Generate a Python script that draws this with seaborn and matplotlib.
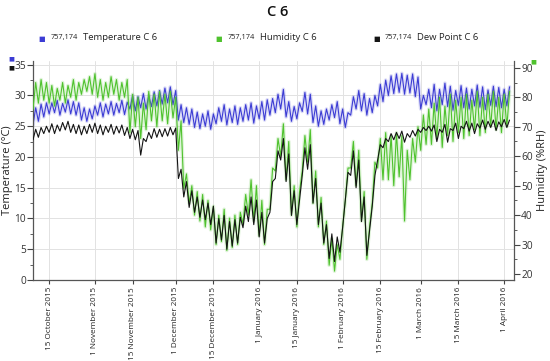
import matplotlib
matplotlib.use("Agg")
import matplotlib.pyplot as plt
import matplotlib.dates as mdates
from matplotlib.ticker import MultipleLocator
import numpy as np
import pandas as pd
import seaborn as sns

# series start; values below are 2-day pairs: trough on day 2k, peak on day 2k+1
start = pd.Timestamp("2015-10-09")

temp_lo = [25.2, 25.8, 26.5, 27.0, 27.2, 26.8, 27.3, 27.0, 26.8, 26.0, 25.8, 26.2,
           26.8, 26.5, 27.0, 26.8, 27.2, 26.9, 27.8, 27.5, 28.0, 27.8, 28.2,
           28.3, 28.6, 28.8, 28.5, 26.0, 25.6, 25.3, 24.8, 24.6, 25.0, 24.5,
           25.4, 25.8, 25.2, 25.6, 25.3, 25.8, 26.0, 25.5, 26.2, 26.0,
           26.8, 27.2, 27.8, 26.5, 25.8, 26.2, 27.4, 27.0, 25.6, 25.0, 25.3,
           26.0, 26.4, 25.4, 24.8, 26.8, 27.8, 27.5, 26.8, 27.2, 28.3, 29.0,
           30.0, 30.3, 30.5, 30.2, 30.4, 29.8, 27.8, 28.5,
           28.0, 27.5, 28.5, 28.2, 27.6, 28.4, 28.0, 27.8, 28.3, 28.1, 27.7, 28.4, 28.2, 28.0, 28.3]
temp_hi = [28.0, 28.6, 28.8, 28.8, 29.2, 28.7, 29.3, 29.0, 28.8, 28.0, 27.8, 28.3,
           28.8, 28.6, 29.0, 28.7, 29.2, 28.9, 30.0, 29.8, 30.3, 30.0, 30.6,
           30.8, 31.2, 31.4, 30.8, 28.5, 28.0, 27.8, 27.3, 27.0, 27.5, 27.0,
           28.0, 28.5, 27.8, 28.3, 28.0, 28.5, 28.8, 28.3, 29.0, 29.3,
           29.5, 30.2, 31.0, 29.0, 28.2, 28.8, 30.5, 30.2, 28.3, 27.5, 27.8,
           28.5, 29.0, 27.8, 27.2, 29.8, 30.8, 30.3, 29.5, 30.0, 31.8, 32.5,
           33.2, 33.5, 33.6, 33.3, 33.5, 33.0, 30.0, 31.0,
           31.8, 31.0, 32.0, 31.5, 30.8, 31.6, 31.2, 31.0, 31.7, 31.4, 30.9, 31.5, 31.3, 31.0, 31.4]

hum_lo = [76, 78, 79, 78, 77, 79, 78, 80, 79, 81, 82, 81,
          80, 79, 80, 81, 79, 80, 68, 70, 66, 69, 72,
          70, 72, 71, 73, 62, 49, 44, 40, 38, 36, 35,
          30, 31, 28, 29, 30, 37, 40, 38, 33, 30,
          42, 55, 60, 52, 40, 36, 55, 58, 44, 36, 30,
          23, 21, 25, 45, 56, 50, 38, 25, 44, 56, 52,
          52, 50, 53, 38, 52, 58, 62, 64,
          64, 66, 63, 67, 65, 68, 66, 67, 69, 67, 68, 70, 69, 68, 70]
hum_hi = [85, 86, 85, 84, 83, 85, 84, 86, 85, 86, 87, 88,
          86, 85, 87, 86, 85, 86, 81, 80, 78, 82, 81,
          82, 81, 82, 80, 72, 54, 50, 48, 47, 45, 43,
          40, 42, 39, 40, 41, 47, 52, 50, 45, 42,
          56, 66, 71, 65, 50, 48, 67, 69, 55, 46, 38,
          32, 30, 36, 56, 65, 62, 48, 36, 58, 66, 68,
          67, 68, 67, 62, 66, 70, 74, 76,
          78, 80, 77, 81, 79, 80, 81, 79, 82, 80, 81, 82, 80, 81, 82]

dew_lo = [22.8, 23.2, 23.8, 24.0, 23.8, 24.2, 24.4, 24.0, 23.8, 23.6, 23.8, 24.0,
          23.8, 23.6, 24.0, 23.7, 23.9, 23.5, 23.0, 22.8, 20.3, 22.5, 23.0,
          23.2, 23.3, 23.4, 23.6, 16.5, 13.5, 11.8, 11.0, 10.2, 9.8, 9.0,
          6.0, 6.5, 5.0, 5.5, 6.0, 8.5, 9.5, 9.0, 7.0, 6.0,
          11.0, 16.5, 19.5, 16.0, 10.5, 9.0, 17.0, 18.0, 12.5, 9.0, 6.0,
          3.5, 3.0, 4.5, 13.0, 17.0, 15.0, 9.5, 4.0, 12.0, 19.5, 21.5,
          22.5, 22.8, 23.0, 22.4, 23.2, 23.4, 24.0, 24.3,
          24.2, 22.5, 24.0, 22.4, 24.3, 23.0, 24.6, 24.2, 23.8, 24.7, 24.5, 24.8, 24.3, 24.9, 24.8]
dew_hi = [24.5, 24.8, 25.0, 25.4, 25.2, 25.6, 25.8, 25.3, 25.2, 25.0, 25.3, 25.5,
          25.2, 25.0, 25.3, 25.0, 25.2, 24.8, 24.5, 24.3, 23.0, 24.0, 24.6,
          24.5, 24.6, 24.8, 24.7, 18.0, 16.0, 14.5, 13.5, 13.0, 12.5, 12.0,
          10.0, 10.5, 9.5, 9.8, 10.2, 12.0, 13.5, 13.0, 11.0, 10.0,
          16.0, 21.0, 23.0, 20.5, 14.5, 13.0, 21.5, 22.0, 16.5, 12.5, 9.0,
          7.5, 7.0, 8.5, 17.5, 21.0, 19.5, 13.5, 8.0, 17.0, 22.0, 23.0,
          23.8, 24.0, 24.2, 23.8, 24.3, 24.5, 24.8, 25.0,
          25.2, 24.5, 25.3, 24.6, 25.5, 25.0, 25.8, 25.5, 25.4, 26.0, 25.8, 26.0, 25.7, 26.1, 26.0]

series_names = ["Temperature C 6", "Humidity C 6", "Dew Point C 6"]
series_count = "757,174"
colors = ["#3c3cd4", "#4fc22e", "#141414"]


def zigzag(lo, hi):
    vals = np.column_stack([lo, hi]).ravel()
    days = start + pd.to_timedelta(np.arange(len(vals)), unit="D")
    return pd.DataFrame({"date": days, "value": vals})


temp_df = zigzag(temp_lo, temp_hi)
hum_df = zigzag(hum_lo, hum_hi)
dew_df = zigzag(dew_lo, dew_hi)

sns.set_style("white")
plt.rcParams["font.family"] = ["Open Sans", "DejaVu Sans"]

fig = plt.figure(figsize=(5.5, 3.61), dpi=100)
ax = fig.add_axes([0.06, 0.2244, 0.875, 0.6066])
ax2 = ax.twinx()
ax3 = ax.twinx()

halo = dict(lw=2.6, alpha=0.18)
sns.lineplot(data=temp_df, x="date", y="value", ax=ax, color=colors[0], legend=False, **halo)
sns.lineplot(data=temp_df, x="date", y="value", ax=ax, color=colors[0], lw=0.8, legend=False)
sns.lineplot(data=hum_df, x="date", y="value", ax=ax2, color=colors[1], legend=False, **halo)
sns.lineplot(data=hum_df, x="date", y="value", ax=ax2, color=colors[1], lw=0.8, legend=False)
sns.lineplot(data=dew_df, x="date", y="value", ax=ax3, color=colors[2], lw=0.8, legend=False)

ax.set_xlim(pd.Timestamp("2015-10-09"), pd.Timestamp("2016-04-04 18:00"))
ax.set_ylim(0, 35.6)
ax3.set_ylim(0, 35.6)
ax2.set_ylim(18, 92.3)

ax.xaxis.set_major_locator(mdates.DayLocator(bymonthday=[1, 15]))
ax.xaxis.set_major_formatter(mdates.DateFormatter("%-d %B %Y"))
ax.yaxis.set_major_locator(MultipleLocator(5))
ax.yaxis.set_minor_locator(MultipleLocator(2.5))
ax2.yaxis.set_major_locator(MultipleLocator(10))
ax2.yaxis.set_minor_locator(MultipleLocator(5))

ax.grid(True, color="#e2e2e2", lw=0.7)
ax.set_axisbelow(True)
ax.tick_params(axis="x", labelsize=5.9, rotation=90, length=3, color="#444444", labelcolor="#222222", pad=2)
ax.tick_params(axis="y", which="major", labelsize=7.3, length=4, color="#444444", labelcolor="#333333", pad=1)
ax.tick_params(axis="y", which="minor", length=2, color="#444444")
ax2.tick_params(axis="y", which="major", labelsize=7.3, length=4, color="#444444", labelcolor="#333333", pad=1)
ax2.tick_params(axis="y", which="minor", length=2, color="#444444")
ax.tick_params(left=True, bottom=True)
ax2.tick_params(right=True)

ax.set_xlabel("")
ax.set_ylabel("Temperature (°C)", fontsize=8, color="#222222", va="center")
ax.yaxis.set_label_coords(-0.054, 0.5)
ax2.set_ylabel("Humidity (%RH)", fontsize=8, color="#222222", rotation=90, va="center")
ax2.yaxis.set_label_coords(1.059, 0.5)
ax3.set_ylabel("")
ax3.set_yticks([])
ax3.axis("off")

for a in (ax, ax2):
    for s in a.spines.values():
        s.set_color("#555555")
        s.set_linewidth(0.9)
    a.spines["top"].set_visible(False)
ax.spines["right"].set_visible(False)
ax2.spines["left"].set_visible(False)
ax2.spines["bottom"].set_visible(False)

fig.text(0.505, 0.967, "C 6", ha="center", va="center", fontsize=10.5, weight="semibold", color="#111111")

legend_x = [0.076, 0.397, 0.684]
for lx, name, c in zip(legend_x, series_names, colors):
    fig.text(lx, 0.893, "\u25a0", color=c, fontsize=5, ha="center", va="center", family="DejaVu Sans")
    fig.text(lx + 0.016, 0.896, series_count, fontsize=5.3, ha="left", va="center", color="#222222")
    fig.text(lx + 0.075, 0.895, name, fontsize=6.8, ha="left", va="center", color="#222222")

# small axis markers
fig.text(0.02, 0.837, "\u25a0", color=colors[0], fontsize=4.5, ha="center", va="center", family="DejaVu Sans")
fig.text(0.02, 0.811, "\u25a0", color=colors[2], fontsize=4.5, ha="center", va="center", family="DejaVu Sans")
fig.text(0.969, 0.828, "\u25a0", color=colors[1], fontsize=4.5, ha="center", va="center", family="DejaVu Sans")

fig.savefig("out.png", dpi=100)
